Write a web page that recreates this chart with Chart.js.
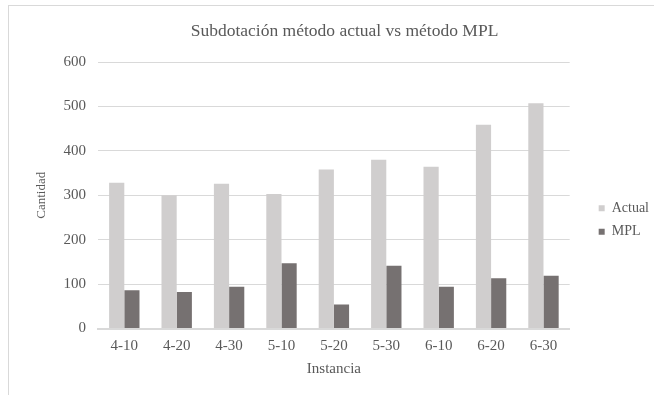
<!DOCTYPE html>
<html lang="es">
<head>
<meta charset="UTF-8">
<title>Subdotación</title>
<script src="https://cdn.jsdelivr.net/npm/chart.js"></script>
<style>
  body { margin: 0; background: #fff; }
  #marco { position: absolute; left: 8px; top: 5px; width: 700px; height: 450px; border: 1px solid #d9d9d9; }
  #grafico { position: absolute; left: 0; top: 0; }
</style>
</head>
<body>
<div id="marco"></div>
<canvas id="grafico" width="654" height="395"></canvas>
<script>
// datos
const instancias = ['4-10', '4-20', '4-30', '5-10', '5-20', '5-30', '6-10', '6-20', '6-30'];
const actual = [328, 300, 326, 303, 358, 380, 364, 459, 507];
const mpl = [86, 82, 94, 147, 54, 141, 94, 113, 119];
const ticksY = [0, 100, 200, 300, 400, 500, 600];

const fuente = 'Liberation Serif, Times New Roman, serif';
const gris = '#595959';

new Chart(document.getElementById('grafico'), {
  type: 'bar',
  data: {
    labels: instancias,
    datasets: [
      { label: 'Actual', data: actual, backgroundColor: '#d0cece', barPercentage: 1, categoryPercentage: 0.58 },
      { label: 'MPL', data: mpl, backgroundColor: '#767171', barPercentage: 1, categoryPercentage: 0.58 }
    ]
  },
  options: {
    responsive: false,
    animation: false,
    layout: { padding: { top: 11, left: 30, right: -5, bottom: 13 } },
    plugins: {
      title: {
        display: true,
        text: 'Subdotación método actual vs método MPL',
        color: gris,
        font: { family: fuente, size: 17.5, weight: 'normal' },
        padding: { top: 10, bottom: 20 }
      },
      legend: {
        position: 'right',
        title: { display: true, text: ' ', font: { size: 14 }, padding: { top: 30, bottom: 0 } },
        labels: {
          boxWidth: 6, boxHeight: 6, padding: 9.5,
          color: gris,
          font: { family: fuente, size: 14 }
        }
      },
      tooltip: { enabled: false }
    },
    scales: {
      x: {
        grid: { display: false, drawTicks: false },
        border: { color: '#d9d9d9', width: 2 },
        ticks: { color: gris, font: { family: fuente, size: 15 }, padding: 9 },
        title: { display: true, text: 'Instancia', color: gris, font: { family: fuente, size: 15 }, padding: { top: -4.5 } }
      },
      y: {
        min: 0, max: 600,
        afterBuildTicks: (s) => { s.ticks = ticksY.map(v => ({ value: v })); },
        grid: { color: '#d9d9d9', drawTicks: false },
        border: { display: false },
        ticks: { color: gris, font: { family: fuente, size: 15 }, padding: 12 },
        title: { display: true, text: 'Cantidad', color: gris, font: { family: fuente, size: 13 }, padding: { bottom: 2 } }
      },
      y2: {
        position: 'right',
        display: true,
        grid: { display: false },
        border: { display: false },
        ticks: { display: false },
        afterFit: (s) => { s.width = 19.5; }
      }
    }
  }
});
</script>
</body>
</html>
